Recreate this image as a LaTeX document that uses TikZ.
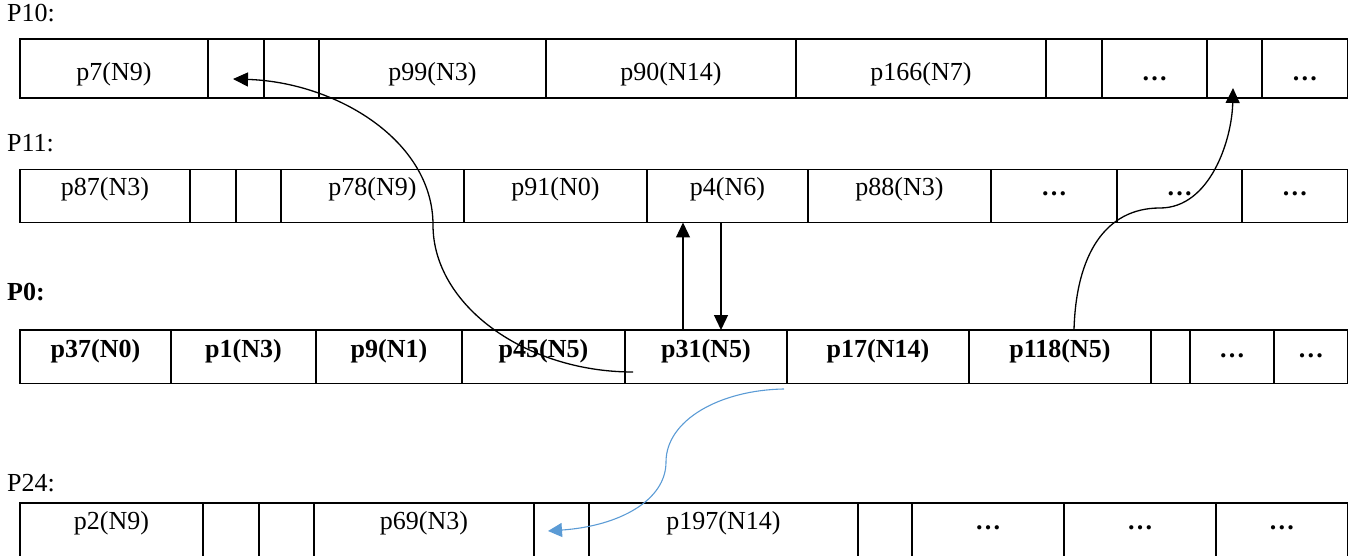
\documentclass[tikz,border=0pt]{standalone}
\usepackage{fontspec}
\setmainfont{Liberation Serif}
\usetikzlibrary{arrows.meta}
\definecolor{lineblue}{HTML}{5B9BD5}
\newcommand\mkcell[6]{\node[#1, minimum width={#4pt-#3pt}, anchor=north west] (#2) at (#3,#5) {#6};}
\newcommand\celldots{\textbf{…}}
\begin{document}
\begin{tikzpicture}[x=1pt,y=-1pt,
  every node/.style={font=\fontsize{26}{30}\selectfont},
  cellbase/.style={draw, line width=1.7pt, inner sep=0pt, outer sep=0pt},
  rowA/.style={cellbase, text height=41.7pt, text depth=17.3pt},
  rowB/.style={cellbase, text height=26pt, text depth=27pt},
  rowC/.style={cellbase, text height=27pt, text depth=26.5pt, font=\fontsize{26}{30}\selectfont\bfseries},
  rowD/.style={cellbase, text height=25.7pt, text depth=28.5pt},
  rowlabel/.style={anchor=base west, inner sep=0pt},
  conn/.style={line width=1.3pt, -{Triangle[length=15pt,width=14pt]}},
  blueconn/.style={line width=1.1pt, draw=lineblue, -{Triangle[length=14pt,width=14pt,fill=lineblue]}}
]
\useasboundingbox (0,0) rectangle (1352,556);
% labels
\node[rowlabel] (l10) at (7,22) {P10:};
\node[rowlabel] (l11) at (7,151.5) {P11:};
\node[rowlabel, font=\fontsize{26}{30}\selectfont\bfseries] (l0) at (7,300) {P0:};
\node[rowlabel] (l24) at (7,491.5) {P24:};
% P10
\mkcell{rowA}{ra1}{20}{208}{39.3}{p7(N9)}
\mkcell{rowA}{ra2}{208}{264}{39.3}{}
\mkcell{rowA}{ra3}{264}{319}{39.3}{}
\mkcell{rowA}{ra4}{319}{546}{39.3}{p99(N3)}
\mkcell{rowA}{ra5}{546}{796}{39.3}{p90(N14)}
\mkcell{rowA}{ra6}{796}{1046}{39.3}{p166(N7)}
\mkcell{rowA}{ra7}{1046}{1102}{39.3}{}
\mkcell{rowA}{ra8}{1102}{1207}{39.3}{\celldots}
\mkcell{rowA}{ra9}{1207}{1262}{39.3}{}
\mkcell{rowA}{ra10}{1262}{1347.5}{39.3}{\celldots}
% P11
\mkcell{rowB}{rb1}{20}{190}{169.5}{p87(N3)}
\mkcell{rowB}{rb2}{190}{236}{169.5}{}
\mkcell{rowB}{rb3}{236}{281}{169.5}{}
\mkcell{rowB}{rb4}{281}{464}{169.5}{p78(N9)}
\mkcell{rowB}{rb5}{464}{647}{169.5}{p91(N0)}
\mkcell{rowB}{rb6}{647}{808}{169.5}{p4(N6)}
\mkcell{rowB}{rb7}{808}{991}{169.5}{p88(N3)}
\mkcell{rowB}{rb8}{991}{1117}{169.5}{\celldots}
\mkcell{rowB}{rb9}{1117}{1242}{169.5}{\celldots}
\mkcell{rowB}{rb10}{1242}{1347.5}{169.5}{\celldots}
% P0
\mkcell{rowC}{rc1}{20}{171}{330}{p37(N0)}
\mkcell{rowC}{rc2}{171}{316}{330}{p1(N3)}
\mkcell{rowC}{rc3}{316}{462}{330}{p9(N1)}
\mkcell{rowC}{rc4}{462}{625}{330}{p45(N5)}
\mkcell{rowC}{rc5}{625}{787}{330}{p31(N5)}
\mkcell{rowC}{rc6}{787}{969}{330}{p17(N14)}
\mkcell{rowC}{rc7}{969}{1151}{330}{p118(N5)}
\mkcell{rowC}{rc8}{1151}{1190}{330}{}
\mkcell{rowC}{rc9}{1190}{1274}{330}{\celldots}
\mkcell{rowC}{rc10}{1274}{1347.5}{330}{\celldots}
% P24
\mkcell{rowD}{rd1}{20}{203}{503.3}{p2(N9)}
\mkcell{rowD}{rd2}{203}{259}{503.3}{}
\mkcell{rowD}{rd3}{259}{314}{503.3}{}
\mkcell{rowD}{rd4}{314}{534}{503.3}{p69(N3)}
\mkcell{rowD}{rd5}{534}{589}{503.3}{}
\mkcell{rowD}{rd6}{589}{858}{503.3}{p197(N14)}
\mkcell{rowD}{rd7}{858}{912}{503.3}{}
\mkcell{rowD}{rd8}{912}{1064}{503.3}{\celldots}
\mkcell{rowD}{rd9}{1064}{1216}{503.3}{\celldots}
\mkcell{rowD}{rd10}{1216}{1347.5}{503.3}{\celldots}
% connector end points
\coordinate (bigS) at (633,372);
\coordinate (bigM) at (433,225);
\coordinate (bigE) at (233,79);
\coordinate (rtS) at (1074,330);
\coordinate (rtM) at (1160,208);
\coordinate (rtE) at (1233,88);
\coordinate (upS) at ([xshift=-23pt]rc5.north);
\coordinate (upE) at (upS |- rb6.south);
\coordinate (dnS) at ([xshift=-6.5pt]rb6.south);
\coordinate (dnE) at (dnS |- rc5.north);
\coordinate (blS) at (784,389);
\coordinate (blM) at (666,462);
\coordinate (blE) at (548,531);
% connectors
\draw[conn] (bigS) .. controls (525,372) and (433,305) .. (bigM)
            .. controls (433,140) and (335,82) .. (bigE);
\draw[conn] (rtS) .. controls (1076,255) and (1105,208) .. (rtM)
            .. controls (1210,208) and (1232,140) .. (rtE);
\draw[conn] (upS) -- (upE);
\draw[conn] (dnS) -- (dnE);
\draw[blueconn] (blS) .. controls (720,390) and (666,420) .. (blM)
            .. controls (666,500) and (620,526) .. (blE);
\end{tikzpicture}
\end{document}
